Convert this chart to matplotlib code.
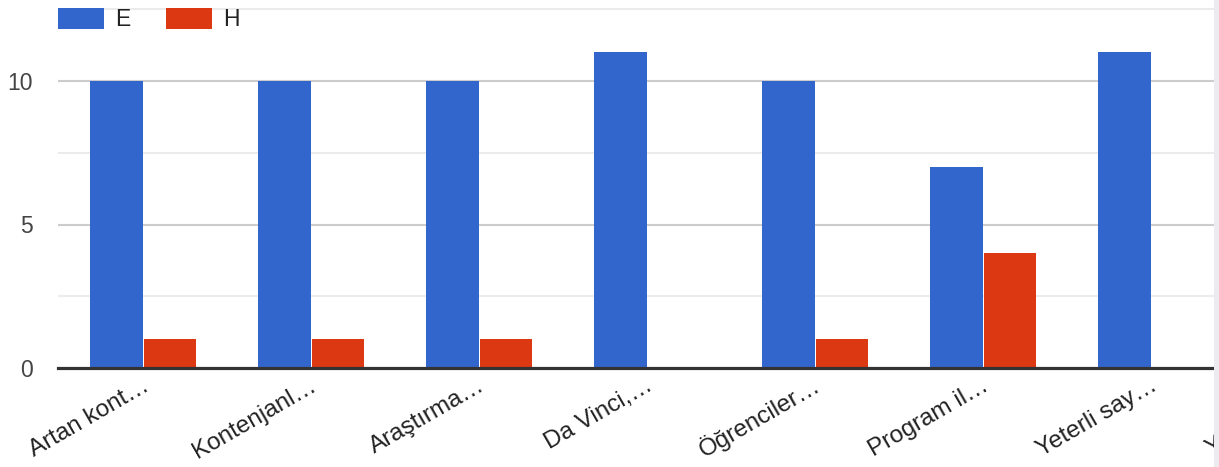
import numpy as np
import matplotlib.pyplot as plt
import matplotlib.transforms as mtransforms
from matplotlib.patches import Rectangle

# survey answers per statement (E = evet, H = hayir)
labels = ["Artan kont…", "Kontenjanl…", "Araştırma…", "Da Vinci,…",
          "Öğrenciler…", "Program il…", "Yeterli say…", "Yüksek lis…"]
e_counts = [10, 10, 10, 11, 10, 7, 11]
h_counts = [1, 1, 1, 0, 1, 4, 0]
y_ticks = [0, 5, 10]

BLUE = "#3366cc"
RED = "#dc3912"
FS = 16.5

plt.rcParams['font.family'] = ['Liberation Sans', 'DejaVu Sans']

W, H = 1219, 467
fig = plt.figure(figsize=(W / 100, H / 100), dpi=100)

# plot area: left edge at x=58, baseline at y=368, 168 px per category
unit_x = 168
left_px, base_px = 58, 368
n_vis = len(labels)
ax_w = unit_x * n_vis / W
ax = fig.add_axes([left_px / W, 1 - base_px / H, ax_w, base_px / H])

x = np.arange(len(e_counts))
bw = 0.31
ax.bar(x - bw - 0.003, e_counts, width=bw, align='edge', color=BLUE, label="E", zorder=3)
ax.bar(x + 0.003, h_counts, width=bw, align='edge', color=RED, label="H", zorder=3)

ax.set_xlim(-0.506, n_vis - 0.506)
ax.set_ylim(0, 368 / 28.7)

# gridlines
for v in [2.5, 7.5, 12.5]:
    ax.axhline(v, color="#ebebeb", lw=1.5, zorder=1)
for v in [5, 10]:
    ax.axhline(v, color="#cccccc", lw=1.5, zorder=1)
ax.axhline(0, color="#333333", lw=2.3, zorder=4, clip_on=False)

for s in ax.spines.values():
    s.set_visible(False)

ax.set_yticks(y_ticks)
ax.set_yticklabels([str(t) for t in y_ticks], fontsize=FS, color="#444444")
ax.tick_params(axis='y', length=0, pad=18)

ax.set_xticks(np.arange(len(labels)))
ax.set_xticklabels(labels, rotation=30, ha='right', va='baseline',
                   rotation_mode='anchor', fontsize=17.5, color="#222222")
ax.tick_params(axis='x', length=0, pad=15.5)
shift = mtransforms.ScaledTranslation(7 / 100, 0, fig.dpi_scale_trans)
for lab in ax.get_xticklabels():
    lab.set_transform(lab.get_transform() + shift)

leg = ax.legend(loc='upper left', bbox_to_anchor=(left_px / W, 1 - 8 / H),
                bbox_transform=fig.transFigure, ncol=2, frameon=False,
                fontsize=FS, handlelength=2.0, handleheight=1.0,
                handletextpad=0.5, columnspacing=1.55, borderpad=0,
                borderaxespad=0)
for t in leg.get_texts():
    t.set_color("#222222")

# page edge on the right
fig.add_artist(Rectangle((1214 / W, 0), 5 / W, 1, transform=fig.transFigure,
                         facecolor="#ececf0", edgecolor="none", zorder=10))

fig.savefig("out.png", dpi=100)
